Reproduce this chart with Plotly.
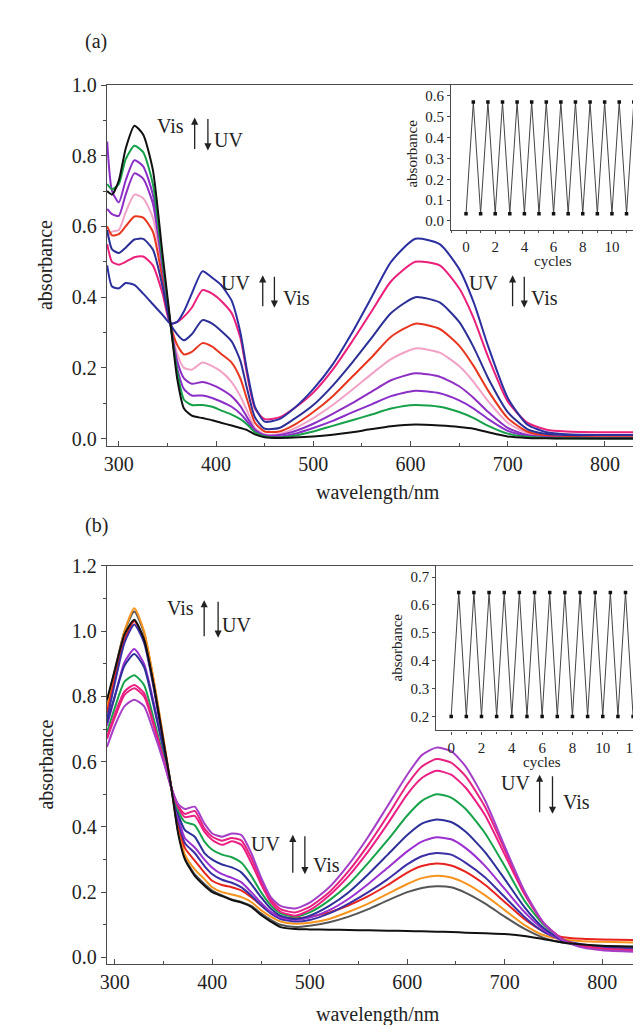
import plotly.graph_objects as go

W, H = 641, 1025

# ---------------- data: panel (a) ----------------
wl_a = [288, 293, 300, 307, 316, 325, 335, 345, 353, 360, 367, 375, 386, 396, 405, 416, 425, 432, 440, 450,
        465, 480, 500, 520, 540, 560, 580, 605, 630, 650, 665, 680, 700, 720, 740, 760, 800, 850]
a_black = [0.70, 0.69, 0.73, 0.82, 0.885, 0.86, 0.76, 0.52, 0.33, 0.17, 0.085, 0.065, 0.058, 0.052, 0.045, 0.037, 0.030, 0.024, 0.012, 0.004,
           0.002, 0.003, 0.006, 0.011, 0.018, 0.027, 0.035, 0.040, 0.037, 0.033, 0.028, 0.018, 0.006, 0.002, 0.001, 0.0, 0.0, 0.0]
a_green = [0.72, 0.705, 0.72, 0.79, 0.828, 0.81, 0.72, 0.50, 0.325, 0.19, 0.11, 0.095, 0.095, 0.09, 0.08, 0.068, 0.055, 0.04, 0.018, 0.006,
           0.003, 0.008, 0.02, 0.036, 0.052, 0.068, 0.085, 0.095, 0.09, 0.075, 0.058, 0.036, 0.014, 0.005, 0.002, 0.001, 0.0, 0.0]
a_purple1 = [0.84, 0.70, 0.668, 0.73, 0.787, 0.77, 0.69, 0.49, 0.325, 0.20, 0.14, 0.122, 0.122, 0.115, 0.105, 0.09, 0.07, 0.048, 0.02, 0.008,
             0.006, 0.013, 0.03, 0.05, 0.074, 0.097, 0.12, 0.135, 0.128, 0.108, 0.085, 0.055, 0.022, 0.008, 0.003, 0.002, 0.001, 0.001]
a_purple2 = [0.65, 0.635, 0.63, 0.69, 0.75, 0.735, 0.665, 0.48, 0.325, 0.22, 0.17, 0.155, 0.16, 0.152, 0.14, 0.12, 0.092, 0.06, 0.025, 0.01,
             0.01, 0.02, 0.042, 0.07, 0.10, 0.133, 0.165, 0.185, 0.175, 0.148, 0.115, 0.075, 0.03, 0.01, 0.004, 0.002, 0.001, 0.001]
a_pink = [0.57, 0.585, 0.59, 0.64, 0.69, 0.68, 0.625, 0.47, 0.325, 0.24, 0.20, 0.195, 0.215, 0.205, 0.19, 0.16, 0.12, 0.078, 0.03, 0.012,
          0.013, 0.028, 0.058, 0.095, 0.138, 0.183, 0.225, 0.255, 0.243, 0.205, 0.16, 0.105, 0.045, 0.016, 0.008, 0.006, 0.006, 0.006]
a_red = [0.60, 0.575, 0.578, 0.60, 0.628, 0.625, 0.585, 0.45, 0.325, 0.265, 0.238, 0.245, 0.27, 0.26, 0.24, 0.215, 0.17, 0.11, 0.045, 0.02,
         0.02, 0.038, 0.075, 0.12, 0.175, 0.23, 0.288, 0.325, 0.31, 0.263, 0.205, 0.135, 0.058, 0.02, 0.008, 0.005, 0.004, 0.004]
a_blue1 = [0.59, 0.535, 0.525, 0.54, 0.563, 0.565, 0.535, 0.43, 0.325, 0.295, 0.278, 0.295, 0.335, 0.325, 0.305, 0.275, 0.22, 0.14, 0.06, 0.028,
           0.03, 0.055, 0.095, 0.15, 0.215, 0.285, 0.355, 0.40, 0.385, 0.33, 0.258, 0.17, 0.075, 0.027, 0.013, 0.01, 0.01, 0.01]
a_magenta = [0.55, 0.50, 0.492, 0.50, 0.513, 0.515, 0.49, 0.41, 0.325, 0.33, 0.345, 0.37, 0.42, 0.41, 0.39, 0.355, 0.285, 0.18, 0.085, 0.055,
             0.06, 0.085, 0.13, 0.195, 0.275, 0.36, 0.445, 0.50, 0.49, 0.425, 0.34, 0.23, 0.105, 0.045, 0.025, 0.02, 0.018, 0.018]
a_blue2 = [0.49, 0.43, 0.425, 0.44, 0.435, 0.41, 0.38, 0.35, 0.325, 0.33, 0.36, 0.41, 0.473, 0.455, 0.435, 0.39, 0.30, 0.19, 0.09, 0.048,
           0.055, 0.085, 0.14, 0.21, 0.30, 0.40, 0.50, 0.565, 0.55, 0.48, 0.385, 0.26, 0.115, 0.04, 0.018, 0.012, 0.01, 0.01]

series_a = [
    ("#f2a2c6", a_pink), ("#e8361f", a_red), ("#8e2fc4", a_purple2), ("#8b2fc9", a_purple1),
    ("#16a04a", a_green), ("#ec1f7a", a_magenta), ("#2b2f96", a_blue1), ("#2c2fa0", a_blue2), ("#111111", a_black),
]

# ---------------- data: panel (b) ----------------
wl_b = [292, 300, 310, 320, 330, 340, 350, 358, 365, 372, 382, 392, 400, 410, 420, 430, 440, 450, 460, 470,
        485, 500, 520, 540, 560, 580, 600, 615, 630, 645, 660, 680, 700, 720, 740, 760, 780, 800, 850]
b_black = [0.79, 0.88, 0.99, 1.035, 0.975, 0.835, 0.66, 0.52, 0.38, 0.30, 0.25, 0.22, 0.20, 0.188, 0.176, 0.168, 0.155, 0.13, 0.11, 0.093,
           0.087, 0.086, 0.085, 0.084, 0.083, 0.082, 0.081, 0.08, 0.079, 0.078, 0.076, 0.074, 0.072, 0.066, 0.056, 0.046, 0.04, 0.036, 0.032]
b_gray = [0.78, 0.88, 1.0, 1.06, 0.995, 0.845, 0.665, 0.52, 0.385, 0.305, 0.255, 0.225, 0.205, 0.19, 0.178, 0.17, 0.158, 0.135, 0.115, 0.10,
          0.093, 0.097, 0.108, 0.125, 0.148, 0.175, 0.20, 0.213, 0.218, 0.215, 0.198, 0.165, 0.125, 0.088, 0.06, 0.045, 0.038, 0.035, 0.03]
b_orange = [0.765, 0.87, 1.0, 1.07, 1.0, 0.85, 0.67, 0.52, 0.395, 0.315, 0.27, 0.24, 0.215, 0.20, 0.193, 0.185, 0.17, 0.145, 0.125, 0.11,
            0.103, 0.106, 0.118, 0.14, 0.165, 0.195, 0.225, 0.243, 0.25, 0.245, 0.227, 0.19, 0.145, 0.10, 0.068, 0.055, 0.05, 0.048, 0.045]
b_red = [0.75, 0.855, 0.975, 1.03, 0.975, 0.83, 0.66, 0.52, 0.41, 0.335, 0.297, 0.26, 0.235, 0.222, 0.215, 0.205, 0.185, 0.16, 0.138, 0.125,
         0.12, 0.125, 0.138, 0.16, 0.188, 0.222, 0.26, 0.28, 0.288, 0.282, 0.262, 0.222, 0.17, 0.118, 0.08, 0.062, 0.057, 0.055, 0.052]
b_blue1 = [0.73, 0.84, 0.965, 1.02, 0.965, 0.825, 0.655, 0.52, 0.42, 0.35, 0.32, 0.28, 0.255, 0.238, 0.229, 0.215, 0.19, 0.16, 0.135, 0.118,
           0.11, 0.115, 0.135, 0.165, 0.20, 0.24, 0.285, 0.31, 0.32, 0.315, 0.29, 0.245, 0.185, 0.125, 0.078, 0.052, 0.04, 0.033, 0.025]
b_purple1 = [0.71, 0.80, 0.905, 0.945, 0.90, 0.78, 0.64, 0.52, 0.43, 0.365, 0.337, 0.30, 0.275, 0.255, 0.244, 0.23, 0.20, 0.168, 0.14, 0.122,
             0.115, 0.122, 0.145, 0.18, 0.225, 0.275, 0.325, 0.355, 0.368, 0.362, 0.335, 0.28, 0.21, 0.14, 0.085, 0.05, 0.035, 0.028, 0.02]
b_blue2 = [0.72, 0.80, 0.895, 0.93, 0.89, 0.77, 0.635, 0.52, 0.44, 0.39, 0.37, 0.32, 0.30, 0.285, 0.276, 0.26, 0.225, 0.185, 0.15, 0.128,
           0.118, 0.128, 0.158, 0.20, 0.255, 0.315, 0.375, 0.41, 0.423, 0.415, 0.385, 0.322, 0.24, 0.155, 0.09, 0.052, 0.035, 0.028, 0.02]
b_green = [0.69, 0.765, 0.845, 0.865, 0.835, 0.73, 0.615, 0.52, 0.45, 0.415, 0.405, 0.355, 0.33, 0.315, 0.307, 0.29, 0.25, 0.20, 0.16, 0.135,
           0.125, 0.138, 0.175, 0.225, 0.29, 0.36, 0.435, 0.48, 0.50, 0.49, 0.455, 0.38, 0.28, 0.175, 0.10, 0.055, 0.035, 0.027, 0.02]
b_magenta2 = [0.675, 0.745, 0.815, 0.835, 0.81, 0.715, 0.61, 0.52, 0.46, 0.43, 0.434, 0.385, 0.36, 0.345, 0.356, 0.345, 0.29, 0.225, 0.17, 0.14,
              0.128, 0.145, 0.19, 0.25, 0.325, 0.41, 0.50, 0.55, 0.572, 0.56, 0.52, 0.435, 0.315, 0.195, 0.105, 0.055, 0.035, 0.027, 0.02]
b_magenta1 = [0.67, 0.735, 0.805, 0.825, 0.80, 0.71, 0.605, 0.52, 0.465, 0.44, 0.449, 0.395, 0.37, 0.358, 0.366, 0.358, 0.305, 0.235, 0.178, 0.148,
              0.138, 0.155, 0.20, 0.265, 0.345, 0.435, 0.53, 0.585, 0.608, 0.597, 0.555, 0.46, 0.33, 0.20, 0.105, 0.055, 0.035, 0.027, 0.02]
b_purple2 = [0.645, 0.71, 0.77, 0.79, 0.77, 0.69, 0.60, 0.52, 0.47, 0.455, 0.462, 0.41, 0.38, 0.37, 0.38, 0.375, 0.32, 0.245, 0.185, 0.158,
             0.15, 0.168, 0.215, 0.285, 0.37, 0.465, 0.56, 0.62, 0.643, 0.632, 0.585, 0.48, 0.34, 0.205, 0.105, 0.052, 0.03, 0.022, 0.015]

series_b = [
    ("#555555", b_gray), ("#f7941d", b_orange), ("#e8231f", b_red), ("#3b2fa6", b_blue1), ("#9b30d0", b_purple1),
    ("#2d2f9a", b_blue2), ("#16a34a", b_green), ("#ec1f85", b_magenta2), ("#e8207f", b_magenta1), ("#a53fc8", b_purple2),
    ("#111111", b_black),
]

# ---------------- data: insets (cycling) ----------------
cycles = [0, 0.5, 1, 1.5, 2, 2.5, 3, 3.5, 4, 4.5, 5, 5.5, 6, 6.5, 7, 7.5, 8, 8.5, 9, 9.5, 10, 10.5, 11, 11.5, 12]
cyc_a = [0.035, 0.57, 0.035, 0.57, 0.035, 0.57, 0.035, 0.57, 0.035, 0.57, 0.035, 0.57, 0.035,
         0.57, 0.035, 0.57, 0.035, 0.57, 0.035, 0.57, 0.035, 0.57, 0.035, 0.57, 0.035]
cyc_b = [0.20, 0.645, 0.20, 0.645, 0.20, 0.645, 0.20, 0.645, 0.20, 0.645, 0.20, 0.645, 0.20,
         0.645, 0.20, 0.645, 0.20, 0.645, 0.20, 0.645, 0.20, 0.645, 0.20, 0.645, 0.20]

FONT = "Liberation Serif"
AX = "#4a4a4a"
TXT = "#222222"


def px(x):
    return x / W


def py(y):
    return 1 - y / H


fig = go.Figure()

for col, ys in series_a:
    fig.add_trace(go.Scatter(x=wl_a, y=ys, mode="lines", line=dict(color=col, width=2, shape="spline", smoothing=0.6),
                             xaxis="x", yaxis="y", showlegend=False, hoverinfo="skip"))
for col, ys in series_b:
    fig.add_trace(go.Scatter(x=wl_b, y=ys, mode="lines", line=dict(color=col, width=2, shape="spline", smoothing=0.6),
                             xaxis="x3", yaxis="y3", showlegend=False, hoverinfo="skip"))

fig.add_trace(go.Scatter(x=cycles, y=cyc_a, mode="lines+markers", line=dict(color="#444444", width=1),
                         marker=dict(symbol="square", size=3.5, color="#111111"),
                         xaxis="x2", yaxis="y2", showlegend=False, hoverinfo="skip"))
fig.add_trace(go.Scatter(x=cycles, y=cyc_b, mode="lines+markers", line=dict(color="#444444", width=1),
                         marker=dict(symbol="square", size=3.5, color="#111111"),
                         xaxis="x4", yaxis="y4", showlegend=False, hoverinfo="skip"))


def main_x(anchor, rng):
    return dict(domain=[px(93), 1.0], range=rng, anchor=anchor, showgrid=False, zeroline=False,
                showline=True, linecolor=AX, linewidth=1.3, mirror=True,
                ticks="inside", ticklen=5, tickwidth=1.2, tickcolor=AX, tick0=300, dtick=100,
                minor=dict(dtick=50, ticks="inside", ticklen=3, tickcolor=AX, tickwidth=1),
                tickfont=dict(family=FONT, size=20, color=TXT))


def main_y(anchor, dom, rng):
    return dict(domain=dom, range=rng, anchor=anchor, showgrid=False, zeroline=False,
                showline=True, linecolor=AX, linewidth=1.3, mirror=False,
                ticks="outside", ticklen=5, tickwidth=1.2, tickcolor=AX, tick0=0, dtick=0.2, tickformat=".1f",
                minor=dict(dtick=0.1, ticks="outside", ticklen=3, tickcolor=AX, tickwidth=1),
                tickfont=dict(family=FONT, size=20, color=TXT))


def inset_x(anchor, dom, rng):
    return dict(domain=dom, range=rng, anchor=anchor, showgrid=False, zeroline=False,
                showline=True, linecolor=AX, linewidth=1.2, mirror=False,
                ticks="outside", ticklen=3, tickwidth=1, tickcolor=AX, tick0=0, dtick=2,
                minor=dict(dtick=1, ticks="outside", ticklen=2, tickcolor=AX),
                tickfont=dict(family=FONT, size=15, color=TXT))


def inset_y(anchor, dom, rng, t0):
    return dict(domain=dom, range=rng, anchor=anchor, showgrid=False, zeroline=False,
                showline=True, linecolor=AX, linewidth=1.2, mirror=False,
                ticks="outside", ticklen=3, tickwidth=1, tickcolor=AX, tick0=t0, dtick=0.1, tickformat=".1f",
                tickfont=dict(family=FONT, size=15, color=TXT))


fig.update_layout(
    width=W, height=H, margin=dict(l=0, r=0, t=0, b=0),
    paper_bgcolor="white", plot_bgcolor="white",
    xaxis=main_x("y", [287.8, 845.3]),
    yaxis=main_y("x", [py(433), py(67)], [-0.02, 1.0]),
    xaxis2=inset_x("y2", [px(441), 1.0], [-1.017, 12.54]),
    yaxis2=inset_y("x2", [py(214), py(67)], [-0.0425, 0.652], 0.0),
    xaxis3=main_x("y3", [292.0, 848.0]),
    yaxis3=main_y("x3", [py(959), py(555)], [-0.02, 1.2]),
    xaxis4=inset_x("y4", [px(426), 1.0], [-0.978, 13.05]),
    yaxis4=inset_y("x4", [py(722), py(555)], [0.15, 0.74], 0.2),
)

ann = []


def txt(text, x, y, xref, yref, size=20, angle=0):
    ann.append(dict(text=text, x=x, y=y, xref=xref, yref=yref, showarrow=False, textangle=angle,
                    font=dict(family=FONT, size=size, color=TXT), xanchor="center", yanchor="middle"))


def arrow(x, y_head, y_tail, xref, yref):
    ann.append(dict(text="", x=x, y=y_head, ax=x, ay=y_tail, xref=xref, yref=yref, axref=xref, ayref=yref,
                    showarrow=True, arrowhead=2, arrowsize=1.1, arrowwidth=1.3, arrowcolor="#222222"))


def uv_vis(xref, yref, first, second, x1, x_up, x_down, x2, y1, y2, ylo, yhi):
    txt(first, x1, y1, xref, yref)
    arrow(x_up, yhi, ylo, xref, yref)
    arrow(x_down, ylo, yhi, xref, yref)
    txt(second, x2, y2, xref, yref)


# panel (a) annotations
uv_vis("x", "y", "Vis", "UV", 353, 378, 391.6, 413, 0.885, 0.845, 0.815, 0.908)
uv_vis("x", "y", "UV", "Vis", 420, 448, 460, 483, 0.44, 0.398, 0.37, 0.462)
uv_vis("x", "y", "UV", "Vis", 675, 705, 717, 738, 0.44, 0.398, 0.37, 0.462)
# panel (b) annotations
uv_vis("x3", "y3", "Vis", "UV", 367, 391.7, 406, 425, 1.072, 1.02, 0.98, 1.095)
uv_vis("x3", "y3", "UV", "Vis", 455, 482.6, 495, 517, 0.347, 0.283, 0.255, 0.376)
uv_vis("x3", "y3", "UV", "Vis", 711, 735.8, 749, 774, 0.535, 0.475, 0.44, 0.56)

# panel letters and axis titles
txt("(a)", px(82), py(23), "paper", "paper")
txt("(b)", px(82), py(514), "paper", "paper")
txt("absorbance", px(31), py(250), "paper", "paper", angle=-90)
txt("absorbance", px(31), py(757), "paper", "paper", angle=-90)
txt("wavelength/nm", px(367), py(481), "paper", "paper")
txt("wavelength/nm", px(367), py(1010), "paper", "paper")
txt("absorbance", px(401), py(137), "paper", "paper", size=15, angle=-90)
txt("absorbance", px(386), py(638), "paper", "paper", size=15, angle=-90)
txt("cycles", px(544), py(246), "paper", "paper", size=15)
txt("cycles", px(533), py(754), "paper", "paper", size=15)

fig.update_layout(annotations=ann)
fig.write_html("out.html")
